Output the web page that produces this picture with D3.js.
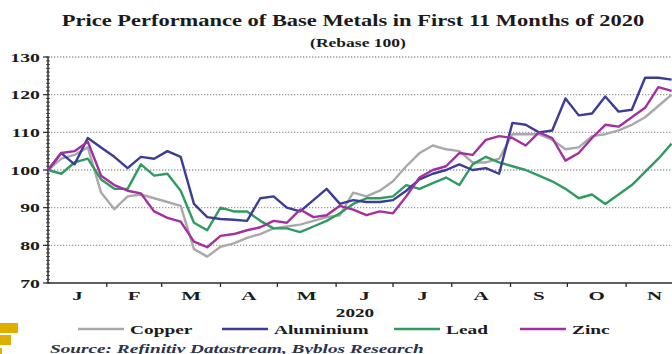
<!DOCTYPE html>
<meta charset="utf-8">
<style>
  body { margin: 0; background: #fff; }
  svg text { font-family: "Liberation Serif", "Times New Roman", serif; font-weight: bold; }
</style>
<!-- Load d3.js -->
<script src="https://d3js.org/d3.v7.min.js"></script>

<div id="my_dataviz"></div>

<script>

// weekly prices, rebased to 100 on 1 Jan 2020
var weeks = d3.timeDay.range(new Date(2020, 0, 1), new Date(2020, 10, 27), 7);

var copper = [100, 103, 104, 106, 94, 89.6, 93, 93.5, 92.5, 91.5, 90.5, 79,
              77, 79.6, 80.5, 82, 83, 84.5, 85, 85.5, 86.5, 87.5, 88, 94,
              93, 94.5, 97, 101, 104.5, 106.5, 105.5, 105, 102, 102, 103, 109.5,
              109.5, 109.5, 108, 105.5, 106, 109, 109.5, 110.5, 112, 114, 117, 120];

var aluminium = [100, 104.5, 101.5, 108.5, 106, 103.5, 100.5, 103.5, 103, 105, 103.5, 91,
                 87.5, 87, 86.8, 86.5, 92.5, 93, 90, 89, 92, 95, 91, 92,
                 91.5, 91.5, 92, 94.5, 97.5, 99, 100, 101.5, 100, 100.5, 99, 112.5,
                 112, 110, 110.5, 119, 114.5, 115, 119.5, 115.5, 116, 124.5, 124.5, 124];

var lead = [100, 99, 102, 103, 97.5, 95, 95, 101.5, 98.5, 99, 94.5, 86,
            84, 90, 89, 89, 86.5, 84.5, 84.5, 83.5, 85, 86.5, 88.5, 91,
            92.5, 92.5, 93, 96, 95, 96.5, 98, 96, 101.5, 103.5, 102, 101,
            100, 98.5, 97, 95, 92.5, 93.5, 91, 93.5, 96, 99.5, 103, 107];

var zinc = [100, 104.5, 105, 107.5, 98.5, 96, 94.5, 93.8, 89, 87.3, 86.3, 81,
            79.5, 82.5, 83, 84, 84.8, 86.5, 86, 89.5, 87.5, 88, 90.5, 89.5,
            88, 89, 88.5, 93, 98, 100, 101, 104.5, 104, 108, 109, 108.5,
            106.5, 110, 108.5, 102.5, 104.5, 108.5, 112, 111.5, 114, 116.5, 122, 121];

var monthLabels = ["J", "F", "M", "A", "M", "J", "J", "A", "S", "O", "N"];
var yTicks = [70, 80, 90, 100, 110, 120, 130];
var seriesNames = ["Copper", "Aluminium", "Lead", "Zinc"];

var colors = {Copper: "#a9a9a9", Aluminium: "#3d3c97", Lead: "#2f9a62", Zinc: "#a3309f"};
var values = {Copper: copper, Aluminium: aluminium, Lead: lead, Zinc: zinc};

var width = 672, height = 354;

var svg = d3.select("#my_dataviz")
  .append("svg")
    .attr("width", width)
    .attr("height", height);

// scales (chart runs past the right edge of the picture)
var x = d3.scaleTime()
  .domain([new Date(2020, 0, 1), new Date(2020, 11, 1)])
  .range([48, 683]);
var y = d3.scaleLinear()
  .domain([70, 130])
  .range([283, 57]);

// text in the source is drawn wide, so stretch it horizontally
function wideText(str, px, py, size, sx, anchor) {
  return svg.append("text")
    .attr("transform", "translate(" + px + "," + py + ") scale(" + sx + ",1)")
    .attr("text-anchor", anchor || "middle")
    .attr("font-size", size)
    .attr("fill", "#1b1b1b")
    .text(str);
}
function fitText(t, px, py, w) {
  var len = t.node().getComputedTextLength();
  t.attr("transform", "translate(" + px + "," + py + ") scale(" + (w / len) + ",1)");
}

// titles
var title = wideText("Price Performance of Base Metals in First 11 Months of 2020", 0, 0, 17, 1, "middle");
fitText(title, 353, 26, 583);
var sub = wideText("(Rebase 100)", 0, 0, 13, 1, "middle");
fitText(sub, 358, 47, 96);

// dotted gridlines
svg.append("g")
  .selectAll("line")
  .data(yTicks.slice(1))
  .enter().append("line")
    .attr("x1", 48).attr("x2", width)
    .attr("y1", function(d) { return y(d); })
    .attr("y2", function(d) { return y(d); })
    .attr("stroke", "#9b9b9b")
    .attr("stroke-width", 1.4)
    .attr("stroke-dasharray", "1.3,1.7");

// y axis with small ruler ticks
var yAx = svg.append("g");
yAx.append("line")
  .attr("x1", 48).attr("x2", 48)
  .attr("y1", y(70)).attr("y2", y(130))
  .attr("stroke", "#2a2a2a").attr("stroke-width", 1.5);
yAx.selectAll("line.minor")
  .data(d3.range(70, 131, 1))
  .enter().append("line")
    .attr("class", "minor")
    .attr("x1", 46).attr("x2", 50)
    .attr("y1", function(d) { return y(d); })
    .attr("y2", function(d) { return y(d); })
    .attr("stroke", "#2a2a2a").attr("stroke-width", 0.8);
yTicks.forEach(function(v) {
  yAx.append("line")
    .attr("x1", 43).attr("x2", 48)
    .attr("y1", y(v)).attr("y2", y(v))
    .attr("stroke", "#2a2a2a").attr("stroke-width", 1.2);
  wideText(String(v), 40, y(v) + 4.5, 12, 1.65, "end");
});

// x axis
var months = d3.timeMonth.range(new Date(2020, 0, 1), new Date(2020, 11, 1));
svg.append("line")
  .attr("x1", 48).attr("x2", width)
  .attr("y1", y(70)).attr("y2", y(70))
  .attr("stroke", "#2a2a2a").attr("stroke-width", 1.6);
svg.append("g")
  .selectAll("line")
  .data(months.slice(1))
  .enter().append("line")
    .attr("x1", function(d) { return x(d); })
    .attr("x2", function(d) { return x(d); })
    .attr("y1", y(70)).attr("y2", y(70) + 4)
    .attr("stroke", "#2a2a2a").attr("stroke-width", 1.3);
months.forEach(function(m, i) {
  var mid = (x(m) + x(d3.timeMonth.offset(m, 1))) / 2;
  wideText(monthLabels[i], mid, 300, 12, 1.75, "middle");
});
wideText("2020", 355, 317, 12, 1.6, "middle");

// series lines
var line = d3.line()
  .x(function(d, i) { return x(weeks[i]); })
  .y(function(d) { return y(d); });

["Copper", "Lead", "Aluminium", "Zinc"].forEach(function(name) {
  svg.append("path")
    .datum(values[name])
    .attr("fill", "none")
    .attr("stroke", colors[name])
    .attr("stroke-width", 2.4)
    .attr("stroke-linejoin", "round")
    .attr("d", line);
});

// legend
var legendX = [78, 222, 394, 520];
seriesNames.forEach(function(name, i) {
  svg.append("line")
    .attr("x1", legendX[i]).attr("x2", legendX[i] + 46)
    .attr("y1", 329).attr("y2", 329)
    .attr("stroke", colors[name]).attr("stroke-width", 2.4);
  wideText(name, legendX[i] + 52, 333.5, 12.5, 1.55, "start");
});

// source line
var src = svg.append("text")
  .attr("font-size", 12)
  .attr("font-style", "italic")
  .attr("fill", "#2b3350")
  .text("Source: Refinitiv Datastream, Byblos Research");
fitText(src, 50, 353, 374);

// yellow page marks bottom left
svg.append("rect").attr("x", 0).attr("y", 323).attr("width", 18).attr("height", 10).attr("fill", "#ddb000");
svg.append("rect").attr("x", 0).attr("y", 335).attr("width", 11).attr("height", 10).attr("fill", "#ddb000");
svg.append("rect").attr("x", 0).attr("y", 348).attr("width", 2).attr("height", 6).attr("fill", "#ddb000");

</script>
